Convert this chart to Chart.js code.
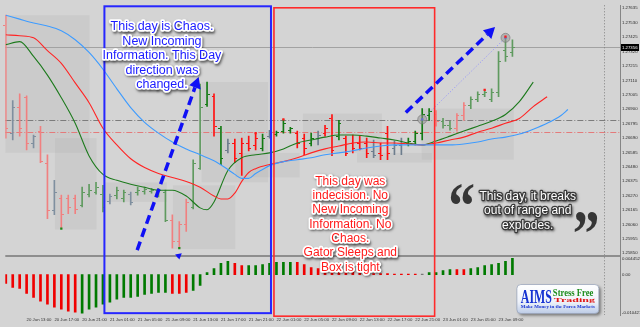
<!DOCTYPE html>
<html><head><meta charset="utf-8">
<style>html,body{margin:0;padding:0;background:#d4d4d4;overflow:hidden}canvas{display:block}</style>
<script src="https://cdn.jsdelivr.net/npm/chart.js@4.4.1/dist/chart.umd.min.js"></script>
</head><body>
<canvas id="c" width="640" height="327"></canvas>
<script>
// ---------------- data ----------------
const tickIndex = [3,7,11,15,19,23,27,31,35,39,43,47,51,55,59,63,67,71];
const tickLabels = ['20 Jun 13:00','20 Jun 17:00','20 Jun 21:00','21 Jun 01:00','21 Jun 05:00','21 Jun 09:00','21 Jun 13:00','21 Jun 17:00','21 Jun 21:00','22 Jun 01:00','22 Jun 05:00','22 Jun 09:00','22 Jun 13:00','22 Jun 17:00','22 Jun 21:00','23 Jun 01:00','23 Jun 05:00','23 Jun 09:00'];
const priceTicks = [1.25850,1.25955,1.26060,1.26165,1.26270,1.26375,1.26480,1.26585,1.26690,1.26795,1.26900,1.27005,1.27110,1.27215,1.27320,1.27425,1.27530,1.27635];
const oscTicks = [0.004452, 0, -0.010421];
const oscTickLabels = ['0.004452','0.00','-0.010421'];
const currentPrice = 1.27356;
const levelGray = 1.26818;
const levelRed = 1.26732;

const opens = [1.27514,1.26725,1.26919,1.26990,1.26653,1.26739,1.26510,1.26166,1.26252,1.26252,
1.26252,1.26202,1.26280,1.26295,1.26280,1.26230,1.26273,1.26252,1.26280,1.26295,
1.26302,1.26302,1.26280,1.26295,1.26094,1.25936,1.26065,1.26187,1.26474,1.26940,
1.26997,1.26761,1.26603,1.26653,1.26581,1.26653,1.26639,1.26617,1.26703,1.26718,
1.26739,1.26746,1.26725,1.26689,1.26653,1.26689,1.26725,1.26832,1.26703,1.26689,
1.26653,1.26653,1.26653,1.26596,1.26581,1.26725,1.26617,1.26639,1.26653,1.26668,
1.26725,1.26854,1.26868,1.26811,1.26782,1.26761,1.26854,1.26933,1.26976,1.27012,
1.26976,1.27026,1.27334,1.27313];
const highs = [1.27585,1.26962,1.27012,1.26997,1.26711,1.26775,1.26567,1.26381,1.26273,1.26273,
1.26273,1.26331,1.26352,1.26366,1.26345,1.26280,1.26331,1.26309,1.26295,1.26331,
1.26331,1.26323,1.26323,1.26309,1.26130,1.26080,1.26245,1.26531,1.27083,1.27098,
1.27012,1.26775,1.26682,1.26682,1.26689,1.26703,1.26725,1.26718,1.26746,1.26739,
1.26825,1.26768,1.26739,1.26718,1.26725,1.26739,1.26782,1.26861,1.26818,1.26703,
1.26711,1.26703,1.26689,1.26675,1.26653,1.26775,1.26668,1.26689,1.26689,1.26739,
1.26904,1.26904,1.26890,1.26832,1.26811,1.26868,1.26947,1.26990,1.27026,1.27040,
1.27048,1.27320,1.27428,1.27406];
const lows = [1.26689,1.26675,1.26703,1.26603,1.26617,1.26510,1.26101,1.26130,1.26029,1.26137,
1.26137,1.26187,1.26259,1.26280,1.26151,1.26209,1.26245,1.26223,1.26202,1.26273,
1.26280,1.26288,1.26259,1.26080,1.25886,1.25886,1.26008,1.26173,1.26460,1.26919,
1.26703,1.26495,1.26581,1.26510,1.26417,1.26596,1.26603,1.26596,1.26689,1.26703,
1.26725,1.26725,1.26617,1.26567,1.26632,1.26639,1.26703,1.26560,1.26675,1.26560,
1.26581,1.26603,1.26546,1.26546,1.26531,1.26531,1.26567,1.26567,1.26632,1.26639,
1.26675,1.26818,1.26775,1.26761,1.26746,1.26739,1.26818,1.26904,1.26954,1.26990,
1.26954,1.26990,1.27248,1.27284];
const closes = [1.26761,1.26919,1.26761,1.26653,1.26703,1.26524,1.26166,1.26295,1.26137,1.26187,
1.26173,1.26295,1.26309,1.26331,1.26187,1.26266,1.26309,1.26295,1.26223,1.26309,
1.26316,1.26309,1.26309,1.26094,1.25936,1.26065,1.26223,1.26510,1.26919,1.27012,
1.26775,1.26546,1.26653,1.26546,1.26653,1.26617,1.26689,1.26689,1.26725,1.26732,
1.26797,1.26761,1.26653,1.26617,1.26689,1.26711,1.26761,1.26603,1.26797,1.26581,
1.26617,1.26617,1.26581,1.26567,1.26567,1.26581,1.26639,1.26653,1.26668,1.26725,
1.26868,1.26883,1.26811,1.26782,1.26761,1.26854,1.26933,1.26976,1.27012,1.27026,
1.27026,1.27248,1.27284,1.27356];
// bar tone: r = bearish zone, g = bullish zone, n = squat/neutral
const barTone = ('rnrrnrrnrr'+'rggggnggng'+'ggggrrrggg'+'rgnrrrrgng'+'ggrrgnrrgr'+'rrrnrrnngg'+'ggrggrrggg'+'gggg').split('');

// Gator oscillator (lower pane)
const gator = [-0.00240,-0.00347,-0.00374,-0.00508,-0.00615,-0.00721,-0.00802,-0.00882,-0.00935,-0.00989,
-0.01015,-0.010421,-0.00935,-0.00882,-0.00802,-0.00748,-0.00668,-0.00615,-0.00615,-0.00588,
-0.00534,-0.00508,-0.00481,-0.00481,-0.00508,-0.00508,-0.00481,-0.00427,-0.00294,0.00056,
0.00167,0.00306,0.00361,0.00306,0.00250,0.00250,0.00250,0.00278,0.00306,0.00334,
0.00334,0.00334,0.00334,0.00278,0.00195,0.00167,0.00167,0.00139,0.00139,0.00111,
0.00083,0.00056,0.00056,0.00028,0.00028,0.00028,0.00014,0.00014,0.00014,0.00014,
0.00014,0.00056,0.00056,0.00111,0.00139,0.00139,0.00139,0.00167,0.00195,0.00250,
0.00278,0.00306,0.00361,0.004452];
const gatorTone = ('rrrrrrrrrr'+'rggggggggg'+'ggggrrrggg'+'gggrrggggg'+'ggrrrrrrrr'+'rrrrrrrrrr'+'nggggrrggg'+'gggg').split('');

// Alligator lines (sampled bar index / price)
const jawIdx = [0,2,4,6,8,10,12,14,16,18,20,22,24,26,28,30,32,33,34,35,36,37,38,40,42,44,46,48,50,52,54,56,58,60,62,64,66,68,70,72,74,76,78,80,81];
const jawVal = [1.27585,1.27556,1.27528,1.27506,1.27471,1.27406,1.27313,1.27191,1.27048,1.26911,1.26804,1.26725,1.26660,1.26610,1.26567,1.26524,
1.26460,1.26424,1.26395,1.26395,1.26431,1.26460,1.26488,
1.26517,1.26531,1.26545,1.26567,1.26581,1.26596,1.26617,1.26631,1.26639,1.26639,1.26639,1.26639,1.26639,1.26646,1.26660,1.26682,1.26696,1.26718,1.26754,1.26797,1.26854,1.26897];
const teethIdx = [0,2,4,6,8,10,12,14,16,18,20,22,24,26,28,30,31,32,33,34,35,36,38,40,42,44,46,48,50,52,54,56,58,60,62,64,66,68,70,72,74,76,78];
const teethVal = [1.27442,1.27435,1.27420,1.27327,1.27234,1.27091,1.26947,1.26761,1.26639,1.26538,1.26474,1.26431,1.26402,1.26373,1.26331,1.26266,
1.26245,1.26245,1.26288,1.26373,1.26438,1.26466,
1.26496,1.26517,1.26545,1.26581,1.26610,1.26631,1.26653,1.26660,1.26653,1.26653,1.26646,1.26639,1.26653,1.26675,1.26696,1.26732,1.26761,1.26797,1.26832,1.26918,1.26990];
const lipsIdx = [0,2,4,6,8,10,12,14,16,18,20,22,24,26,28,29,30,32,34,36,38,40,42,44,46,48,50,52,54,56,58,60,62,64,66,68,70,72,74,76];
const lipsVal = [1.27370,1.27392,1.27284,1.27148,1.26983,1.26797,1.26559,1.26424,1.26381,1.26352,1.26330,1.26309,1.26309,1.26266,1.26180,1.26166,1.26223,
1.26453,1.26545,1.26567,1.26581,1.26610,1.26653,1.26675,1.26696,1.26711,1.26711,1.26703,1.26689,1.26675,1.26653,1.26639,1.26668,1.26703,1.26740,1.26775,1.26811,1.26861,1.26955,1.27097];

const upFractals = [36,40,69,72];
const downFractals = [8,25];
const alertIdx = [60,72];
const alertVal = [1.26825,1.27420];

// ---------------- overlay objects (bar index / price anchors) ----------------
const shadeBoxes = [
  [-0.07,12.07,1.27585,1.26581],[7.07,13.07,1.26689,1.26022],[14.2,23.2,1.26366,1.26223],
  [24.07,33.07,1.26345,1.25879],[28.2,37.8,1.27098,1.26366],[33.07,42.36,1.26581,1.26402],
  [42.8,54.2,1.26868,1.26581],[50.6,61.4,1.26581,1.26510],[59.9,73.2,1.26904,1.26531]
];
const blueNote = ['This day is Chaos.','New Incoming','Information. This Day','direction was','changed.'];
const redNote = ['This day was','indecision. No','New Incoming','Information. No','Chaos.','Gator Sleeps and','Box is tight'];
const whiteNote = ['This day, it breaks','out of range and','explodes.'];

const C = {
  r: '#ff1010', g: '#137a13', n: '#6d7d8d',
  rm: '#f08080', gm: '#5f9a5f', nm: '#7f8f9f'
};
function toneColor(t, i){
  const bright = i >= 29 && i <= 61;
  return bright ? C[t] : C[t+'m'];
}

const pts = (idx, val) => idx.map((x,k)=>({x:x, y:val[k]}));

function note(ctx, lines, cx, y0, lh, size, fill, stroke, sw){
  ctx.save();
  ctx.font = size + 'px "Liberation Sans", Arial, sans-serif';
  ctx.textAlign = 'center'; ctx.textBaseline = 'alphabetic'; ctx.lineJoin = 'round';
  lines.forEach((t,k)=>{
    const yy = y0 + k*lh;
    ctx.save();
    ctx.shadowColor = 'rgba(0,0,0,0.55)'; ctx.shadowBlur = 2.5; ctx.shadowOffsetX = 1; ctx.shadowOffsetY = 1.5;
    ctx.strokeStyle = stroke; ctx.lineWidth = sw; ctx.strokeText(t, cx, yy);
    ctx.restore();
    ctx.fillStyle = fill; ctx.fillText(t, cx, yy);
  });
  ctx.restore();
}
function fitText(ctx, txt, font, x, y, w, h, color){
  ctx.save();
  ctx.font = font;
  const m = ctx.measureText(txt);
  const bw = m.actualBoundingBoxLeft + m.actualBoundingBoxRight;
  const bh = m.actualBoundingBoxAscent + m.actualBoundingBoxDescent;
  ctx.translate(x, y); ctx.scale(w/bw, h/bh);
  ctx.fillStyle = color; ctx.textAlign = 'left'; ctx.textBaseline = 'alphabetic';
  ctx.fillText(txt, m.actualBoundingBoxLeft, m.actualBoundingBoxAscent);
  ctx.restore();
}
function arrow(ctx, x1, y1, x2, y2, color, lw, dash, head){
  const a = Math.atan2(y2-y1, x2-x1);
  const hx = x2 - Math.cos(a)*head, hy = y2 - Math.sin(a)*head;
  ctx.save();
  ctx.strokeStyle = color; ctx.lineWidth = lw; ctx.setLineDash(dash);
  ctx.beginPath(); ctx.moveTo(x1,y1); ctx.lineTo(hx,hy); ctx.stroke();
  ctx.setLineDash([]); ctx.fillStyle = color;
  const px = Math.cos(a+Math.PI/2)*head*0.55, py = Math.sin(a+Math.PI/2)*head*0.55;
  ctx.beginPath(); ctx.moveTo(x2,y2); ctx.lineTo(hx+px,hy+py); ctx.lineTo(hx-px,hy-py); ctx.closePath(); ctx.fill();
  ctx.restore();
}

const overlay = {
  id: 'overlay',
  beforeDatasetsDraw(chart){
    const {ctx, chartArea: a, scales: {x, y}} = chart;
    ctx.save();
    ctx.fillStyle = 'rgba(0,0,0,0.04)';
    shadeBoxes.forEach(b=>{
      const x1 = x.getPixelForValue(b[0]), x2 = x.getPixelForValue(b[1]);
      const y1 = y.getPixelForValue(b[2]), y2 = y.getPixelForValue(b[3]);
      ctx.fillRect(x1, y1, x2-x1, y2-y1);
    });
    const hl = (v, col, dash) => { const py = Math.round(y.getPixelForValue(v))+0.5; ctx.strokeStyle = col; ctx.lineWidth = 1; ctx.setLineDash(dash); ctx.beginPath(); ctx.moveTo(a.left, py); ctx.lineTo(a.right, py); ctx.stroke(); };
    hl(currentPrice, '#a2a2a2', []);
    hl(levelGray, '#7c7c7c', [6,2,1,2]);
    hl(levelRed, '#e47a7a', [6,2,1,2]);
    const sx = Math.round(x.getPixelForValue(86.2))+0.5;
    ctx.strokeStyle = '#808080'; ctx.setLineDash([1,2]);
    ctx.beginPath(); ctx.moveTo(sx, a.top); ctx.lineTo(sx, a.bottom); ctx.stroke();
    ctx.setLineDash([]); ctx.strokeStyle = '#8e8e8e'; ctx.lineWidth = 2;
    ctx.beginPath(); ctx.moveTo(a.left, y.bottom); ctx.lineTo(a.right, y.bottom); ctx.stroke();
    ctx.restore();
  },
  afterDatasetDraw(chart, args){
    if (args.index !== 0) return;
    const {ctx, scales: {x, y}} = chart;
    ctx.save();
    opens.forEach((o,i)=>{
      const bx = Math.floor(x.getPixelForValue(i));
      ctx.fillStyle = toneColor(barTone[i], i);
      ctx.fillRect(bx-2, Math.round(y.getPixelForValue(o)), 2, 1);
      ctx.fillRect(bx+1, Math.round(y.getPixelForValue(closes[i])), 2, 1);
    });
    ctx.restore();
  },
  afterDraw(chart){
    const {ctx, chartArea: a, scales: {x, y, y2}} = chart;
    const X = v => x.getPixelForValue(v), Y = v => y.getPixelForValue(v), Y2 = v => y2.getPixelForValue(v);
    ctx.save();
    const cp = Math.round(Y(currentPrice));
    ctx.fillStyle = '#000'; ctx.fillRect(a.right+1, cp-3, 18, 7);
    ctx.fillStyle = '#fff'; ctx.font = '4.3px "Liberation Sans", Arial'; ctx.textBaseline = 'middle'; ctx.textAlign = 'left';
    ctx.fillText(currentPrice.toFixed(5), a.right+2, cp+0.5);
    ctx.strokeStyle = '#2626ff'; ctx.lineWidth = 2;
    ctx.strokeRect(X(14.21), a.top+1, X(38.21)-X(14.21), Y2(-0.01045)-a.top-1);
    ctx.strokeStyle = '#ff2a2a'; ctx.lineWidth = 1.6;
    ctx.strokeRect(X(38.64), a.top+2.5, X(61.79)-X(38.64), Y2(-0.01127)-a.top-2.5);
    arrow(ctx, X(18.93), Y(1.25872), X(27.79), Y(1.27134), '#1010f5', 3.5, [9,5], 11);
    arrow(ctx, X(57.64), Y(1.26875), X(70.5), Y(1.27499), '#1010f5', 3.5, [9,5], 11);
    arrow(ctx, X(24.79), Y2(0.00494), X(25.36), Y(1.25850), '#1010f5', 2, [], 6);
    ctx.restore();
    note(ctx, blueNote, X(22.5), Y(1.27474), 14.5, 12.5, '#1a1aff', '#ffffff', 3.5);
    note(ctx, redNote, X(49.64), Y(1.26349), 14.33, 12, '#ff1a1a', '#ffffff', 3.5);
    note(ctx, whiteNote, X(75.21), Y(1.26241), 14.5, 12, '#ffffff', '#3a3a3a', 2.5);
    fitText(ctx, '\u201C', 'bold 100px "Liberation Serif", serif', X(64.07), Y(1.26345), 23, 20, '#363636');
    fitText(ctx, '\u201D', 'bold 100px "Liberation Serif", serif', X(81.93), Y(1.26144), 23, 20, '#363636');
    const lx = X(73.64), ly = Y2(-0.00267);
    ctx.save();
    ctx.shadowColor = 'rgba(0,0,0,0.45)'; ctx.shadowBlur = 3; ctx.shadowOffsetX = 2; ctx.shadowOffsetY = 2;
    const g = ctx.createLinearGradient(0, ly, 0, ly+29);
    g.addColorStop(0, '#ffffff'); g.addColorStop(0.6, '#eef2fa'); g.addColorStop(1, '#bccbe6');
    ctx.fillStyle = g;
    ctx.beginPath(); ctx.roundRect(lx, ly, 82, 29, 4); ctx.fill();
    ctx.restore();
    ctx.strokeStyle = '#9aa6bb'; ctx.lineWidth = 0.8; ctx.beginPath(); ctx.roundRect(lx, ly, 82, 29, 4); ctx.stroke();
    fitText(ctx, 'AIMS', 'bold 20px "Liberation Serif", serif', lx+4, ly+5, 31, 13, '#1532d2');
    fitText(ctx, 'Stress Free', 'bold 12px "Liberation Serif", serif', lx+36, ly+5, 41, 6.5, '#1c8c1c');
    fitText(ctx, 'Trading', 'bold 12px "Liberation Serif", serif', lx+37, ly+12, 41, 7, '#e01414');
    fitText(ctx, 'Make Money in the Forex Markets', 'bold 10px "Liberation Serif", serif', lx+4, ly+21, 74, 3.5, '#1532d2');
  }
};

new Chart(document.getElementById('c'), {
  type: 'bar',
  data: {
    datasets: [
      { type: 'bar', yAxisID: 'y', order: 5, grouped: false, barThickness: 1,
        data: highs.map((h,i)=>({x:i, y:[lows[i], h]})),
        backgroundColor: barTone.map((t,i)=>toneColor(t,i)) },
      { type: 'bar', yAxisID: 'y2', order: 5, grouped: false, barThickness: 2,
        data: gator.map((v,i)=>({x:i, y:v})),
        backgroundColor: gatorTone.map(t=> t==='r' ? '#f00000' : t==='g' ? '#007a00' : '#777') },
      { type: 'line', yAxisID: 'y', order: 1, data: pts(jawIdx, jawVal), borderColor: '#3d9bff', borderWidth: 1.1, pointRadius: 0, cubicInterpolationMode: 'monotone' },
      { type: 'line', yAxisID: 'y', order: 1, data: pts(teethIdx, teethVal), borderColor: '#ff2424', borderWidth: 1.1, pointRadius: 0, cubicInterpolationMode: 'monotone' },
      { type: 'line', yAxisID: 'y', order: 1, data: pts(lipsIdx, lipsVal), borderColor: '#1d7a1d', borderWidth: 1.1, pointRadius: 0, cubicInterpolationMode: 'monotone' },
      { type: 'line', yAxisID: 'y', order: 1, data: pts(alertIdx, alertVal), borderColor: '#8c8cff', borderWidth: 1, borderDash: [1,2], pointRadius: 0 },
      { type: 'scatter', yAxisID: 'y', order: 0, data: upFractals.map(i=>({x:i, y:highs[i]})), pointStyle: 'rect', radius: 1.6, backgroundColor: '#ff1a1a', borderWidth: 0 },
      { type: 'scatter', yAxisID: 'y', order: 0, data: downFractals.map(i=>({x:i, y:lows[i]})), pointStyle: 'rect', radius: 1.6, backgroundColor: '#1a8a1a', borderWidth: 0 },
      { type: 'scatter', yAxisID: 'y', order: 0, data: pts(alertIdx, alertVal), pointStyle: 'circle', radius: 4.5, backgroundColor: 'rgba(150,150,150,0.55)', borderColor: 'rgba(110,110,110,0.7)', borderWidth: 0.8 },
      { type: 'scatter', yAxisID: 'y', order: 0, data: pts(alertIdx, alertVal), pointStyle: 'circle', radius: 1.3, backgroundColor: '#2846ff', borderWidth: 0 }
    ]
  },
  options: {
    responsive: false, animation: false, events: [],
    layout: { padding: 0 },
    plugins: { legend: { display: false }, tooltip: { enabled: false } },
    scales: {
      x: {
        type: 'linear', min: -0.5/7, max: 88.5, offset: false,
        grid: { display: false, drawTicks: false }, border: { display: false },
        afterBuildTicks: s => { s.ticks = tickIndex.map(v=>({value:v})); },
        ticks: { autoSkip: false, maxRotation: 0, minRotation: 0, align: 'start', padding: 2,
          font: { size: 4.3, family: '"Liberation Sans", Arial' }, color: '#333',
          callback: v => { const k = tickIndex.indexOf(v); return k >= 0 ? tickLabels[k] : ''; } },
        afterFit: s => { s.height = 12; s.paddingLeft = 0; s.paddingRight = 0; }
      },
      y: {
        type: 'linear', position: 'right', stack: 'panes', stackWeight: 255,
        min: 1.25829, max: 1.27657,
        grid: { display: false, drawTicks: false }, border: { display: true, color: '#858585', width: 1 },
        afterBuildTicks: s => { s.ticks = priceTicks.map(v=>({value:v})); },
        ticks: { autoSkip: false, padding: 2, font: { size: 4.3, family: '"Liberation Sans", Arial' }, color: '#2a2a2a',
          callback: v => Number(v).toFixed(5) },
        afterFit: s => { s.width = 20; s.paddingTop = 0; s.paddingBottom = 0; }
      },
      y2: {
        type: 'linear', position: 'right', stack: 'panes', stackWeight: 60,
        min: -0.01095, max: 0.00508,
        grid: { display: false, drawTicks: false }, border: { display: true, color: '#858585', width: 1 },
        afterBuildTicks: s => { s.ticks = oscTicks.map(v=>({value:v})); },
        ticks: { autoSkip: false, padding: 2, font: { size: 4.3, family: '"Liberation Sans", Arial' }, color: '#2a2a2a',
          callback: v => { const k = oscTicks.indexOf(v); return k >= 0 ? oscTickLabels[k] : ''; } },
        afterFit: s => { s.width = 20; s.paddingTop = 0; s.paddingBottom = 0; }
      }
    }
  },
  plugins: [overlay]
});
</script>
</body></html>
